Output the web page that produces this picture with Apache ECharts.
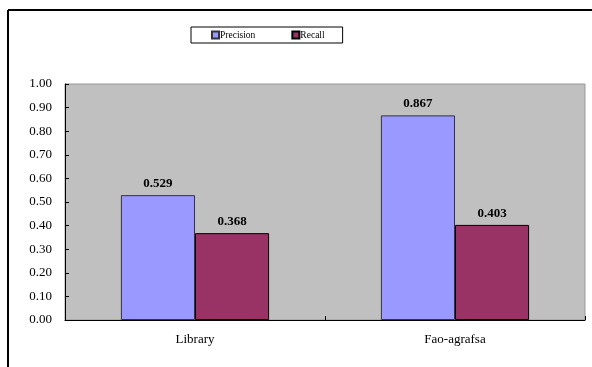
<!DOCTYPE html>
<html>
<head>
<meta charset="utf-8">
<script src="https://cdn.jsdelivr.net/npm/echarts@6/dist/echarts.min.js"></script>
<style>
html,body{margin:0;padding:0;background:#fff;}
#c{width:592px;height:367px;}
</style>
</head>
<body>
<div id="c"></div>
<script>
var categories = ['Library', 'Fao-agrafsa'];
var precision = [0.529, 0.867];
var recall = [0.368, 0.403];
var seriesNames = ['Precision', 'Recall'];

var FONT = '"Liberation Serif", "Times New Roman", serif';
var chart = echarts.init(document.getElementById('c'));
chart.setOption({
  animation: false,
  backgroundColor: '#ffffff',
  textStyle: { fontFamily: FONT },
  graphic: [
    { type: 'line', shape: { x1: 8, y1: 10, x2: 592, y2: 10 }, style: { stroke: '#000', lineWidth: 2 }, z: 100 },
    { type: 'line', shape: { x1: 8, y1: 10, x2: 8, y2: 367 }, style: { stroke: '#000', lineWidth: 2 }, z: 100 }
  ],
  legend: {
    data: seriesNames,
    left: 191,
    top: 27,
    orient: 'horizontal',
    itemWidth: 7,
    itemHeight: 7,
    itemGap: 36,
    padding: [3, 18, 3, 20],
    borderColor: '#000',
    borderWidth: 1,
    backgroundColor: '#fff',
    icon: 'rect',
    textStyle: { fontFamily: FONT, fontSize: 9.5, color: '#000', padding: [0, 0, 0, -4] }
  },
  grid: {
    left: 65, right: 7, top: 84, bottom: 47,
    show: true,
    backgroundColor: '#C0C0C0',
    borderColor: '#999999',
    borderWidth: 1
  },
  xAxis: {
    type: 'category',
    data: categories,
    axisLine: { lineStyle: { color: '#000', width: 1 } },
    axisTick: { show: true, inside: true, length: 4, lineStyle: { color: '#000' } },
    axisLabel: { fontFamily: FONT, fontSize: 13, color: '#000', margin: 13 }
  },
  yAxis: {
    type: 'value',
    min: 0, max: 1, interval: 0.1,
    splitLine: { show: false },
    axisLine: { show: true, lineStyle: { color: '#000', width: 1 } },
    axisTick: { show: true, inside: true, length: 4, lineStyle: { color: '#000' } },
    axisLabel: {
      fontFamily: FONT, fontSize: 13, color: '#000', margin: 13,
      formatter: function (v) { return v.toFixed(2); }
    }
  },
  series: [
    {
      name: seriesNames[0], type: 'bar', data: precision,
      barGap: '0%', barCategoryGap: '43%',
      itemStyle: { color: '#9999FF', borderColor: '#333344', borderWidth: 1 },
      label: { show: true, position: 'top', distance: 5, fontFamily: FONT, fontSize: 13, fontWeight: 'bold', color: '#000',
        formatter: function (p) { return p.value.toFixed(3); } }
    },
    {
      name: seriesNames[1], type: 'bar', data: recall,
      barGap: '0%', barCategoryGap: '43%',
      itemStyle: { color: '#993366', borderColor: '#000000', borderWidth: 1 },
      label: { show: true, position: 'top', distance: 5, fontFamily: FONT, fontSize: 13, fontWeight: 'bold', color: '#000',
        formatter: function (p) { return p.value.toFixed(3); } }
    }
  ]
});
</script>
</body>
</html>
